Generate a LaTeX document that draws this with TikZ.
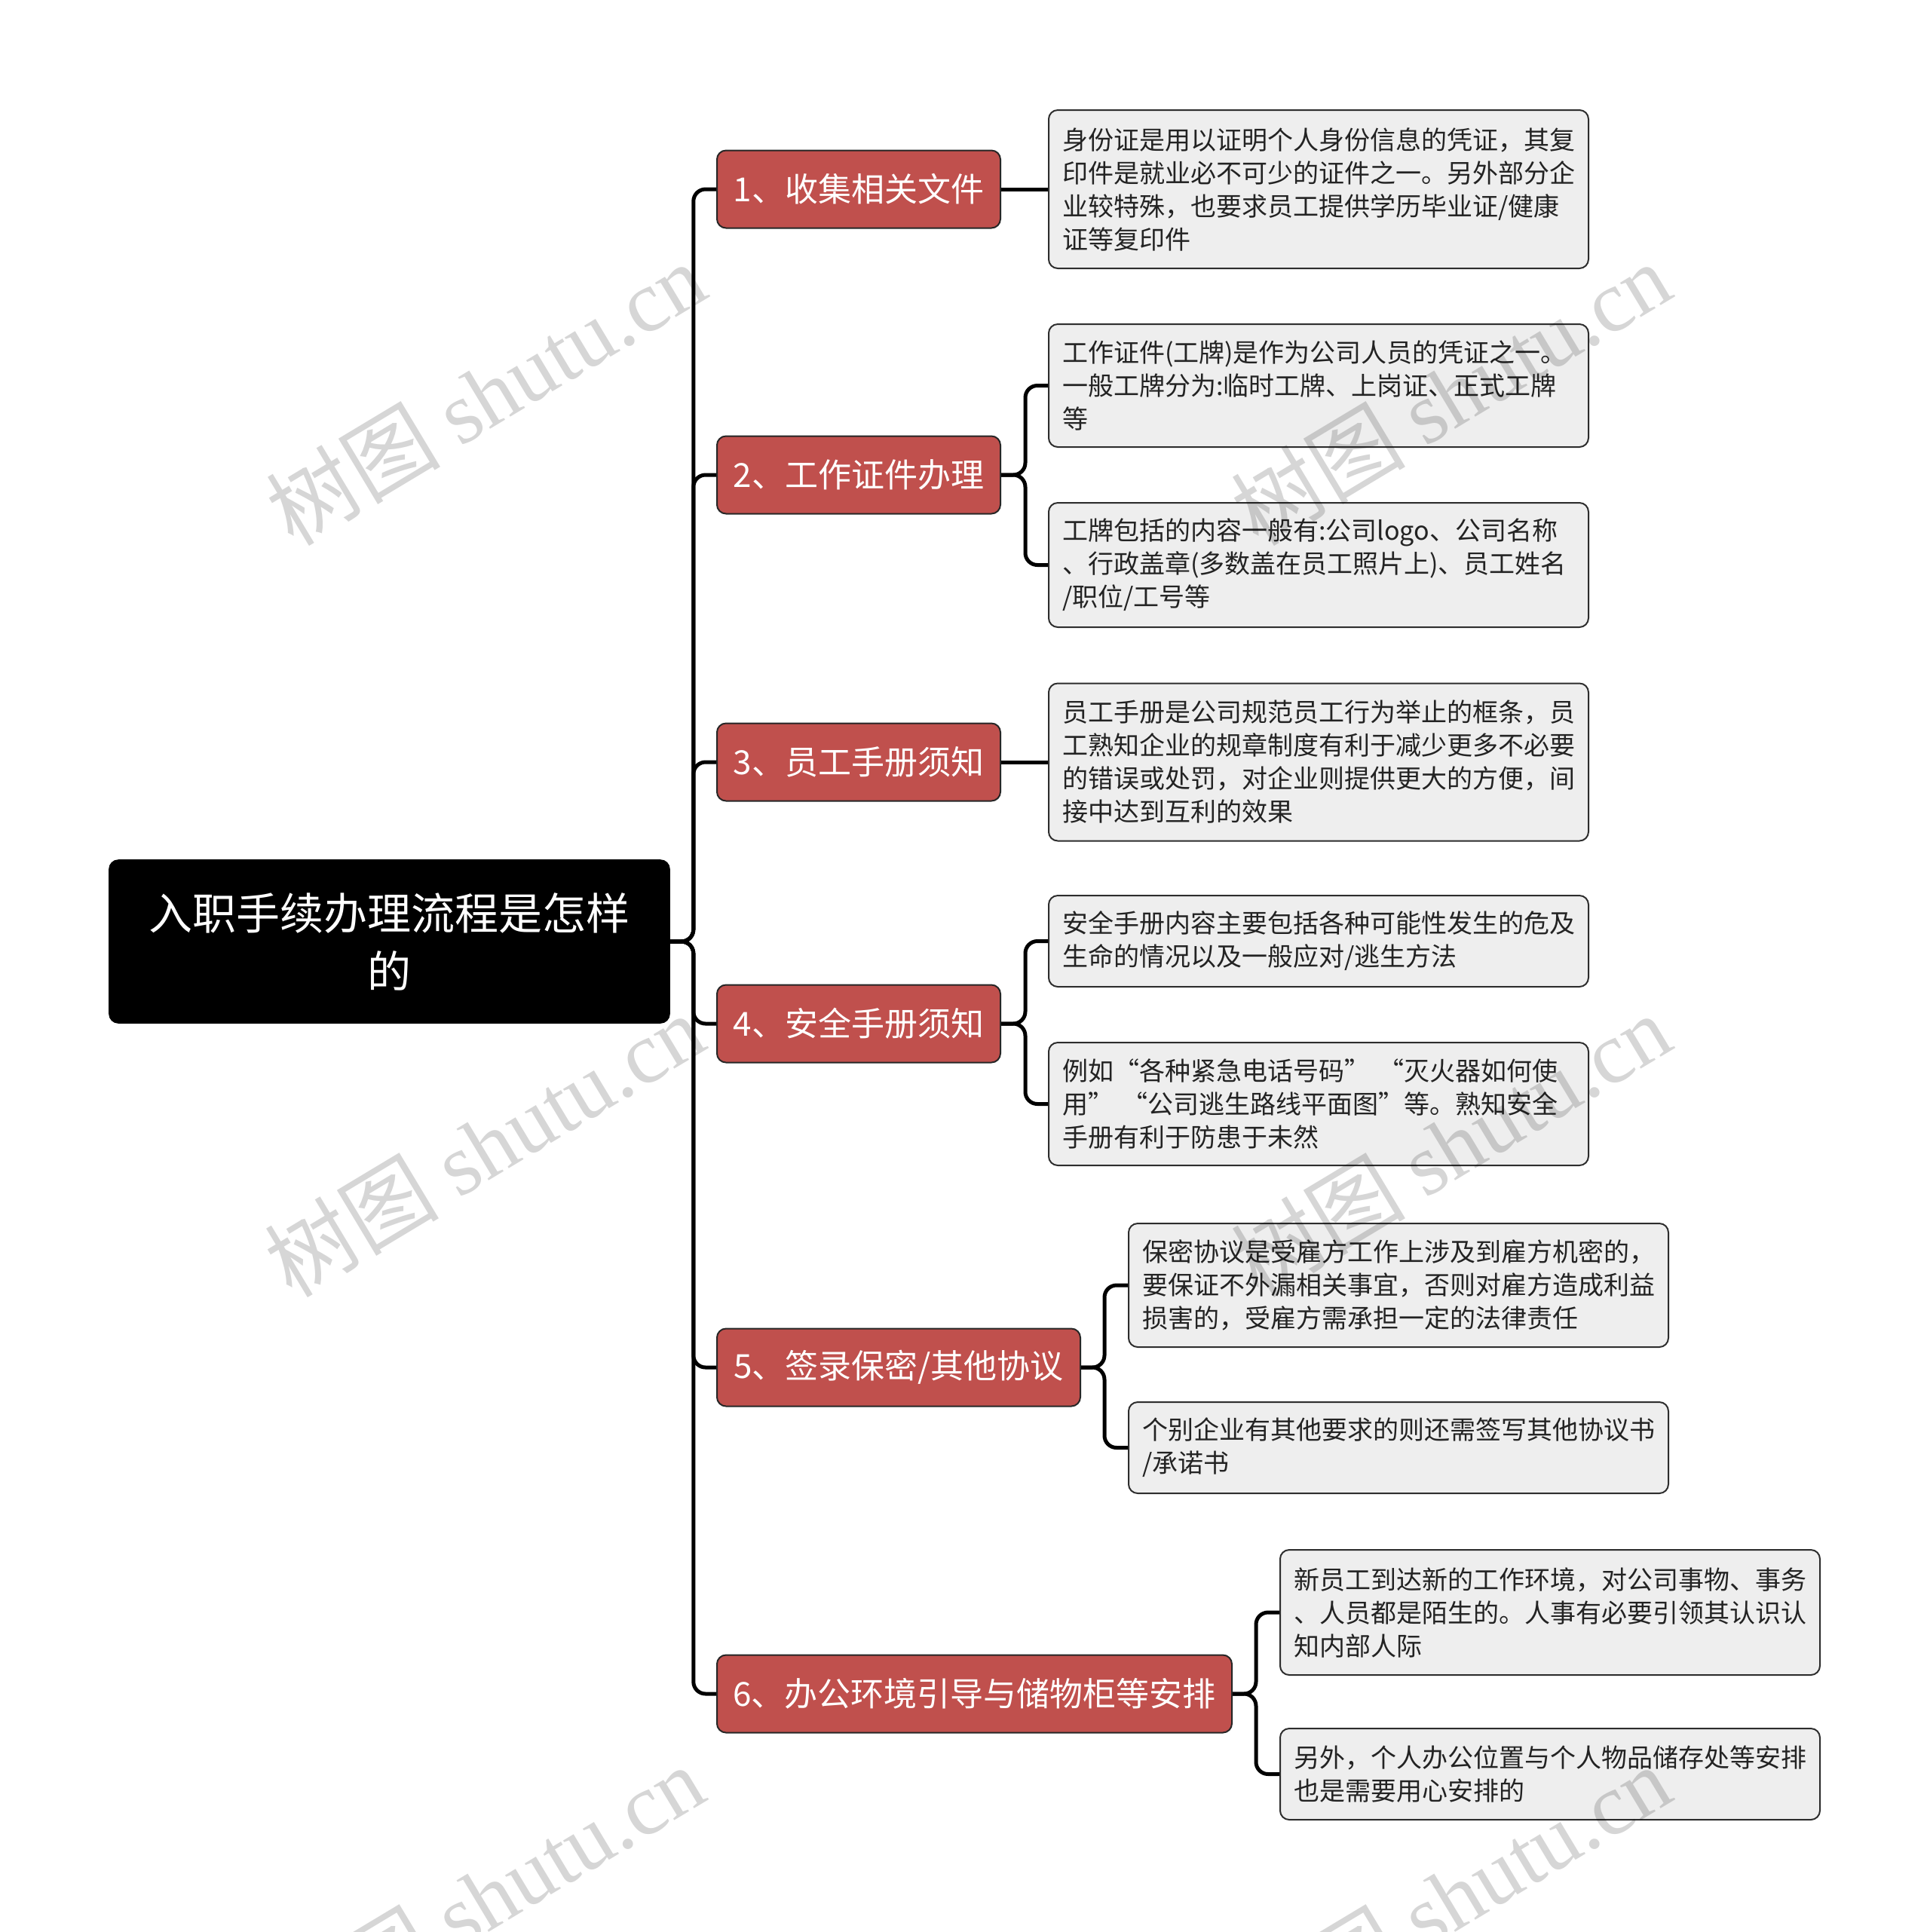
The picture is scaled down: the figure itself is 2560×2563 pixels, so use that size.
\documentclass[tikz,border=0pt]{standalone}
\usepackage{fontspec}
\setmainfont{Noto Sans CJK SC}
\newfontfamily\wmserif{Liberation Serif}
\definecolor{redfill}{RGB}{192,80,77}
\definecolor{leaffill}{RGB}{238,238,238}
\definecolor{leafdraw}{RGB}{45,45,45}
\definecolor{txt}{RGB}{35,35,35}
\begin{document}
\begin{tikzpicture}[x=0.25pt,y=-0.25pt,
 rootbox/.style={fill=black, draw=black, rounded corners=3pt, text=white,
   font=\fontsize{14.5}{19.2}\selectfont, align=center,
   minimum width=185.75pt, minimum height=54pt, inner sep=0pt},
 catbox/.style={fill=redfill, draw=black!85, line width=0.5pt, rounded corners=3pt,
   text=white, font=\fontsize{11}{13}\selectfont, minimum height=25.75pt,
   inner sep=0pt, anchor=west},
 leafbox/.style={fill=leaffill, draw=leafdraw, line width=0.5pt, rounded corners=3pt,
   text=txt, font=\fontsize{8.5}{11}\selectfont, align=left, text width=170pt,
   inner xsep=4.5pt, inner ysep=0pt, anchor=west},
 conn/.style={draw=black, line width=1.25pt, rounded corners=4pt},
 wm/.style={text=black, opacity=0.16, rotate=31, font=\fontsize{29}{29}\selectfont}
]
\useasboundingbox (0,0) rectangle (2560,2563);

% root
\node[rootbox] (root) at (516.5,1249) {入职手续办理流程是怎样\\的};

% categories
\node[catbox, minimum width=94pt]     (c1) at (950,251)  {1、收集相关文件};
\node[catbox, minimum width=94pt]     (c2) at (950,630)  {2、工作证件办理};
\node[catbox, minimum width=94pt]     (c3) at (950,1011) {3、员工手册须知};
\node[catbox, minimum width=94pt]     (c4) at (950,1358) {4、安全手册须知};
\node[catbox, minimum width=120.5pt]  (c5) at (950,1814) {5、签录保密/其他协议};
\node[catbox, minimum width=170.75pt] (c6) at (950,2247) {6、办公环境引导与储物柜等安排};

% leaves
\node[leafbox, minimum height=52.5pt] (l1) at (1390,251)
 {身份证是用以证明个人身份信息的凭证，其复\\印件是就业必不可少的证件之一。另外部分企\\业较特殊，也要求员工提供学历毕业证/健康\\证等复印件};
\node[leafbox, minimum height=40.75pt] (l2a) at (1390,511.5)
 {工作证件(工牌)是作为公司人员的凭证之一。\\一般工牌分为:临时工牌、上岗证、正式工牌\\等};
\node[leafbox, minimum height=41.25pt] (l2b) at (1390,749.5)
 {工牌包括的内容一般有:公司logo、公司名称\\、行政盖章(多数盖在员工照片上)、员工姓名\\/职位/工号等};
\node[leafbox, minimum height=52.25pt] (l3) at (1390,1011)
 {员工手册是公司规范员工行为举止的框条，员\\工熟知企业的规章制度有利于减少更多不必要\\的错误或处罚，对企业则提供更大的方便，间\\接中达到互利的效果};
\node[leafbox, minimum height=30.25pt] (l4a) at (1390,1248.5)
 {安全手册内容主要包括各种可能性发生的危及\\生命的情况以及一般应对/逃生方法};
\node[leafbox, minimum height=40.75pt] (l4b) at (1390,1464.5)
 {例如“各种紧急电话号码” “灭火器如何使\\用” “公司逃生路线平面图”等。熟知安全\\手册有利于防患于未然};
\node[leafbox, minimum height=41pt] (l5a) at (1496,1705)
 {保密协议是受雇方工作上涉及到雇方机密的，\\要保证不外漏相关事宜，否则对雇方造成利益\\损害的，受雇方需承担一定的法律责任};
\node[leafbox, minimum height=30.25pt] (l5b) at (1496,1920.5)
 {个别企业有其他要求的则还需签写其他协议书\\/承诺书};
\node[leafbox, minimum height=41.5pt] (l6a) at (1697,2139)
 {新员工到达新的工作环境，对公司事物、事务\\、人员都是陌生的。人事有必要引领其认识认\\知内部人际};
\node[leafbox, minimum height=30.25pt] (l6b) at (1697,2353.5)
 {另外，个人办公位置与个人物品储存处等安排\\也是需要用心安排的};

% connectors root -> categories
\foreach \c in {c1,c2,c3,c4,c5,c6}{
  \draw[conn] (root.east) -- ++(31,0) |- (\c.west);
}
% categories -> leaves
\draw[conn] (c1.east) -- (l1.west);
\draw[conn] (c3.east) -- (l3.west);
\draw[conn] (c2.east) -- ++(32,0) |- (l2a.west);
\draw[conn] (c2.east) -- ++(32,0) |- (l2b.west);
\draw[conn] (c4.east) -- ++(32,0) |- (l4a.west);
\draw[conn] (c4.east) -- ++(32,0) |- (l4b.west);
\draw[conn] (c5.east) -- ++(31,0) |- (l5a.west);
\draw[conn] (c5.east) -- ++(31,0) |- (l5b.west);
\draw[conn] (c6.east) -- ++(31,0) |- (l6a.west);
\draw[conn] (c6.east) -- ++(31,0) |- (l6b.west);

% watermarks
\foreach \i/\x/\y in {1/644/522, 2/1924/522, 3/642/1519, 4/1924/1519, 5/642/2516, 6/1924/2516}{
  \node[wm] (wm\i) at (\x,\y) {树图 {\wmserif shutu.cn}};
}
\end{tikzpicture}
\end{document}
